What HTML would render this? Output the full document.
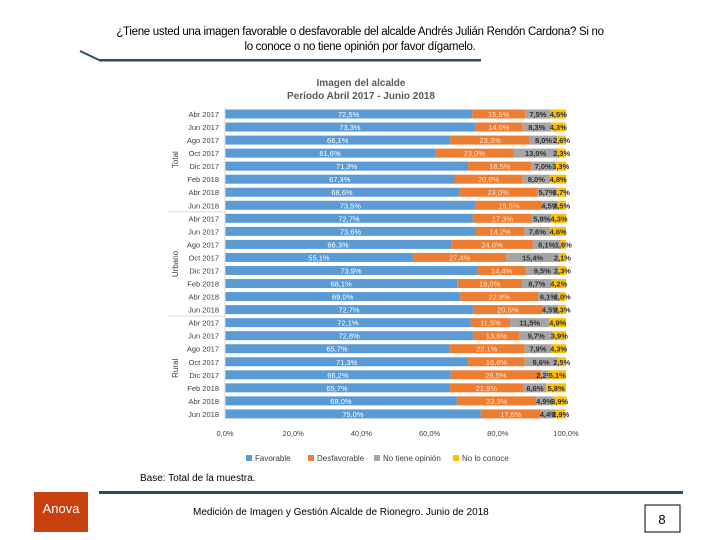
<!DOCTYPE html>
<html><head><meta charset="utf-8"><style>
body{margin:0;width:720px;height:540px;background:#fff;position:relative;overflow:hidden;font-family:"Liberation Sans",sans-serif}
.abs{position:absolute}
</style></head><body>
<div class="abs" style="left:90px;top:25px;width:540px;text-align:center;font-size:11.5px;line-height:15px;color:#000;letter-spacing:-0.3px">¿Tiene usted una imagen favorable o desfavorable del alcalde Andrés Julián Rendón Cardona? Si no<br>lo conoce o no tiene opinión por favor dígamelo.</div>
<svg class="abs" style="left:0;top:0" width="720" height="540">
<line x1="80" y1="51" x2="99" y2="60" stroke="#2e4a6b" stroke-width="2"/>
<rect x="99" y="59" width="382" height="2.5" fill="#2e4a6b"/>
<rect x="99" y="491" width="584" height="3" fill="#2e4a6b"/>
<rect x="34" y="492" width="54" height="40" fill="#c8400e"/>
<text x="61" y="513" fill="#fff" font-size="13" text-anchor="middle" font-family="Liberation Sans">Anova</text>
<rect x="645" y="505" width="35" height="27" fill="#fff" stroke="#000"/>
<text x="662" y="524" font-size="13" text-anchor="middle" font-family="Liberation Sans">8</text>
</svg>
<div class="abs" style="left:140px;top:473px;font-size:10px">Base: Total de la muestra.</div>
<div class="abs" style="left:193px;top:507px;font-size:10px">Medición de Imagen y Gestión Alcalde de Rionegro. Junio de 2018</div>
<svg id="chart" class="abs" style="left:0;top:0" width="720" height="540"></svg>
<script>
const periods=["Abr 2017","Jun 2017","Ago 2017","Oct 2017","Dic 2017","Feb 2018","Abr 2018","Jun 2018"];
const groups=["Total","Urbano","Rural"];
const favorable=[72.5,73.3,66.1,61.6,71.3,67.3,68.6,73.5, 72.7,73.6,66.3,55.1,73.9,68.1,69.0,72.7, 72.1,72.8,65.7,71.3,66.2,65.7,68.0,75.0];
const desfavorable=[15.5,14.0,23.3,23.0,18.5,20.0,23.0,19.5, 17.3,14.2,24.0,27.4,14.4,19.0,22.8,20.5, 11.5,13.6,22.1,16.6,26.5,21.9,23.3,17.6];
const noOpinion=[7.5,8.3,8.0,13.0,7.0,8.0,5.7,4.5, 5.8,7.6,8.1,15.4,9.5,8.7,6.1,4.5, 11.5,9.7,7.9,9.6,2.2,6.6,4.9,4.4];
const noConoce=[4.5,4.3,2.6,2.3,3.3,4.8,2.7,2.5, 4.3,4.6,1.6,2.1,2.3,4.2,2.0,2.3, 4.9,3.9,4.3,2.5,5.1,5.8,3.9,2.9];
const ticks=[0,20,40,60,80,100];
const seriesNames=["Favorable","Desfavorable","No tiene opinión","No lo conoce"];
const colors=["#5b9bd5","#ed7d31","#a5a5a5","#ffc000"];
const svg=document.getElementById('chart');
const NS="http://www.w3.org/2000/svg";
const X0=225,X1=566,Y0=114,DY=13.04,BH=9;
const x=v=>X0+(X1-X0)*v/100;
const y=i=>Y0+i*DY;
function mk(t,a){const e=document.createElementNS(NS,t);for(const k in a)e.setAttribute(k,a[k]);svg.appendChild(e);return e;}
const fmt=v=>v.toFixed(1).replace('.',',')+'%';
let t=mk('text',{x:361,y:86,'text-anchor':'middle','font-size':10,'font-weight':'bold',fill:'#595959'});t.textContent="Imagen del alcalde";

t=mk('text',{x:361,y:99,'text-anchor':'middle','font-size':10,'font-weight':'bold',fill:'#595959'});t.textContent="Período Abril 2017 - Junio 2018";

const series=[favorable,desfavorable,noOpinion,noConoce];
const labCol=["#fff","#fde3d0","#333","#333"];
for(let i=0;i<favorable.length;i++){
  let acc=0;
  for(let s=0;s<4;s++){
    const v=series[s][i];
    const r=mk('rect',{x:x(acc),y:y(i)-BH/2,width:x(acc+v)-x(acc),height:BH,fill:colors[s]});
    
    
    const l=mk('text',{x:(x(acc)+x(acc+v))/2,y:y(i)+3,'text-anchor':'middle','font-size':7.5,fill:labCol[s],'font-weight':s>1?'bold':'normal'});
    l.textContent=fmt(v);
    
    
    acc+=v;
  }
  const c=mk('text',{x:219,y:y(i)+3,'text-anchor':'end','font-size':7.5,fill:'#404040'});
  c.textContent=periods[i%8];
  
  
}
for(let g=0;g<3;g++){
  const yc=(y(g*8)+y(g*8+7))/2;
  const gl=mk('text',{x:0,y:0,'text-anchor':'middle','font-size':8,fill:'#404040',transform:`translate(178,${yc}) rotate(-90)`});
  gl.textContent=groups[g];
  
  
  if(g>0){const ln=mk('line',{x1:168,x2:X0,y1:y(g*8)-DY/2,y2:y(g*8)-DY/2,stroke:'#d9d9d9'});
  }
}
mk('line',{x1:X0,x2:X0,y1:y(0)-DY/2,y2:y(23)+DY/2,stroke:'#d9d9d9'});
for(const tv of ticks){
  const tl=mk('text',{x:x(tv),y:436,'text-anchor':'middle','font-size':7.5,fill:'#404040'});
  tl.textContent=tv.toFixed(1).replace('.',',')+'%';
  
  
}
const lx=[246,308,374,453];
for(let s=0;s<4;s++){
  const r=mk('rect',{x:lx[s],y:455,width:6,height:6,fill:colors[s]});
  
  
  const l=mk('text',{x:lx[s]+9,y:461,'font-size':8,fill:'#404040'});
  l.textContent=seriesNames[s];
  
  
}
</script>
</body></html>
